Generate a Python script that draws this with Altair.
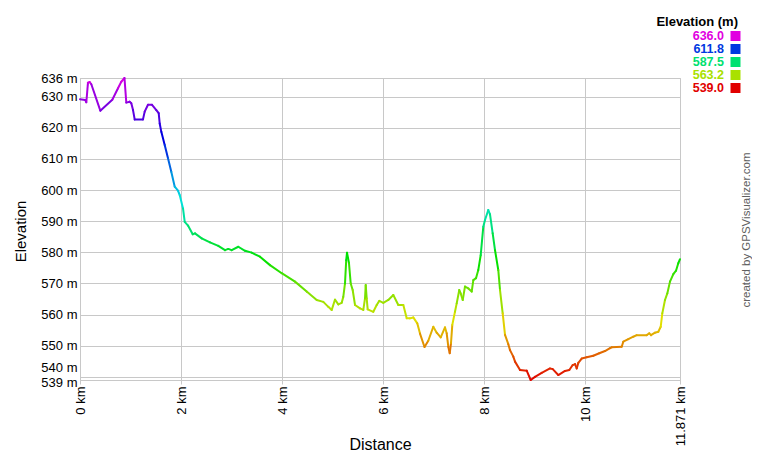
import altair as alt
import pandas as pd

# Track profile (distance in km, elevation in m)
distance_km = [
    0.000, 0.105, 0.125, 0.158, 0.192, 0.224, 0.402, 0.639, 0.752, 0.817,
    0.880, 0.916, 0.983, 1.015, 1.049, 1.082, 1.246, 1.280, 1.345, 1.425,
    1.510, 1.557, 1.577, 1.609, 1.676, 1.741, 1.806, 1.874, 1.939, 1.973,
    2.038, 2.072, 2.137, 2.230, 2.275, 2.408, 2.572, 2.736, 2.869, 2.934,
    3.001, 3.132, 3.265, 3.397, 3.561, 3.759, 3.991, 4.254, 4.485, 4.683,
    4.814, 4.913, 4.980, 5.045, 5.111, 5.178, 5.209, 5.243, 5.267, 5.283,
    5.322, 5.356, 5.395, 5.441, 5.540, 5.605, 5.639, 5.653, 5.672, 5.692,
    5.803, 5.870, 5.922, 6.001, 6.100, 6.199, 6.298, 6.397, 6.464, 6.529,
    6.594, 6.673, 6.727, 6.816, 6.891, 6.990, 7.057, 7.137, 7.221, 7.255,
    7.287, 7.315, 7.340, 7.366, 7.419, 7.453, 7.504, 7.532, 7.572, 7.617,
    7.683, 7.750, 7.782, 7.835, 7.880, 7.928, 7.979, 8.013, 8.078, 8.112,
    8.165, 8.211, 8.276, 8.310, 8.363, 8.409, 8.474, 8.508, 8.573, 8.607,
    8.706, 8.838, 8.917, 9.002, 9.135, 9.299, 9.353, 9.463, 9.596, 9.681,
    9.748, 9.794, 9.827, 9.859, 9.926, 10.025, 10.156, 10.274, 10.387, 10.486,
    10.520, 10.718, 10.749, 10.848, 10.947, 11.014, 11.212, 11.264, 11.297, 11.376,
    11.442, 11.489, 11.521, 11.574, 11.620, 11.673, 11.739, 11.792, 11.837, 11.871,
]
elevation_m = [
    629.2, 628.9, 628.2, 634.5, 634.7, 634.0, 625.5, 629.0, 632.7, 634.8,
    636.0, 628.1, 628.4, 627.9, 625.7, 622.7, 622.7, 625.2, 627.4, 627.4,
    625.7, 624.7, 621.4, 618.7, 614.5, 610.2, 605.9, 601.1, 599.8, 598.4,
    594.1, 589.8, 588.6, 585.8, 586.1, 584.5, 583.2, 582.1, 580.7, 581.1,
    580.7, 581.8, 580.5, 579.9, 578.6, 575.9, 573.3, 570.6, 567.4, 564.7,
    564.1, 562.5, 561.5, 564.8, 563.3, 563.8, 565.7, 570.0, 577.5, 579.9,
    576.5, 570.0, 567.9, 563.1, 562.0, 561.5, 565.2, 569.5, 565.2, 561.7,
    560.9, 563.1, 564.4, 563.8, 564.7, 566.3, 563.1, 563.1, 558.8, 558.8,
    559.1, 557.2, 553.9, 549.6, 551.6, 556.1, 554.2, 552.7, 555.9, 554.0,
    549.7, 547.6, 550.8, 556.7, 560.9, 563.6, 567.9, 566.8, 564.7, 569.0,
    568.4, 567.4, 571.1, 571.7, 574.3, 579.1, 588.2, 590.4, 593.6, 592.2,
    586.1, 580.7, 574.3, 567.9, 560.4, 553.5, 550.5, 548.6, 546.5, 544.9,
    542.2, 542.0, 539.0, 540.0, 541.3, 542.7, 542.5, 540.6, 541.9, 542.2,
    543.8, 544.1, 542.7, 544.5, 545.9, 546.3, 546.8, 547.6, 548.3, 549.2,
    549.5, 549.7, 551.3, 552.1, 552.9, 553.4, 553.4, 554.0, 553.4, 554.2,
    554.5, 556.1, 560.4, 564.7, 566.8, 570.6, 573.0, 574.1, 576.5, 577.8,
]

legend_labels = ["636.0", "611.8", "587.5", "563.2", "539.0"]
legend_values = [636.0, 611.8, 587.5, 563.2, 539.0]
legend_colors = ["#e100e1", "#0038e1", "#00e170", "#a9e100", "#e10000"]

y_ticks = [539, 540, 550, 560, 570, 580, 590, 600, 610, 620, 630, 636]
x_ticks = [0, 2, 4, 6, 8, 10, 11.871]

FONT = "Liberation Sans"
GRID = "#c8c8c8"

seg = pd.DataFrame({
    "d": distance_km[:-1],
    "e": elevation_m[:-1],
    "d2": distance_km[1:],
    "e2": elevation_m[1:],
})
seg["c"] = (seg["e"] + seg["e2"]) / 2

color_scale = alt.Scale(
    domain=legend_values[::-1],
    range=legend_colors[::-1],
    interpolate="hsl",
)

profile = alt.Chart(seg).mark_rule(strokeWidth=2, strokeCap="round").encode(
    x=alt.X(
        "d:Q",
        scale=alt.Scale(domain=[0, 11.871], nice=False, zero=False),
        axis=alt.Axis(
            values=x_ticks,
            labelExpr="datum.value + ' km'",
            labelAngle=270,
            labelAlign="right",
            labelBaseline="middle",
            labelFontSize=13,
            labelFont=FONT,
            labelColor="#000000",
            labelPadding=2,
            labelFlush=False,
            labelOverlap=False,
            tickSize=4,
            tickColor=GRID,
            domainColor=GRID,
            gridColor=GRID,
            title="Distance",
            titleFont=FONT,
            titleFontSize=16,
            titleFontWeight="normal",
            titleColor="#000000",
            titleX=300,
            titleY=69,
            titleAlign="center",
            titleBaseline="alphabetic",
        ),
    ),
    x2="d2:Q",
    y=alt.Y(
        "e:Q",
        scale=alt.Scale(domain=[539, 636], nice=False, zero=False),
        axis=alt.Axis(
            values=y_ticks,
            labelExpr="datum.value + ' m'",
            labelFontSize=13,
            labelFont=FONT,
            labelColor="#000000",
            labelPadding=3,
            labelFlush=False,
            labelOverlap=False,
            labelBaseline="middle",
            labelOffset={"expr": "datum.value == 540 ? -9 : (datum.value == 539 ? 2 : 0)"},
            ticks=False,
            domainColor=GRID,
            gridColor=GRID,
            title="Elevation",
            titleFont=FONT,
            titleFontSize=15,
            titleFontWeight="normal",
            titleColor="#000000",
            titleAngle=270,
            titleX=-60,
            titleY=153,
            titleAlign="center",
            titleBaseline="middle",
        ),
    ),
    y2="e2:Q",
    color=alt.Color("c:Q", scale=color_scale, legend=None),
)

leg = pd.DataFrame({"label": legend_labels, "val": legend_values})
leg_y = alt.Y(
    "label:N",
    sort=legend_labels,
    scale=alt.Scale(type="point", range=[-42, 10], padding=0),
    axis=None,
)
leg_color = alt.Color("val:Q", scale=color_scale, legend=None)

leg_text = alt.Chart(leg).mark_text(
    align="right", baseline="middle", fontWeight="bold", fontSize=12.5, font=FONT, x=644
).encode(y=leg_y, text="label:N", color=leg_color)

leg_sq = alt.Chart(leg).mark_square(size=100, x=655.5, opacity=1).encode(
    y=leg_y, color=leg_color
)

leg_title = alt.Chart(pd.DataFrame({"t": ["Elevation (m)"]})).mark_text(
    align="right", baseline="middle", fontWeight="bold", fontSize=13, font=FONT,
    color="#000000", x=658, y=-56,
).encode(text="t:N")

credit = alt.Chart(pd.DataFrame({"t": ["created by GPSVisualizer.com"]})).mark_text(
    align="center", baseline="middle", fontSize=11.5, font=FONT,
    color="#606060", angle=270, x=667, y=152,
).encode(text="t:N")

chart = alt.layer(profile, leg_text, leg_sq, leg_title, credit).resolve_scale(
    y="independent"
).properties(
    width=600,
    height=302,
    padding={"left": 72, "top": 70, "right": 72, "bottom": 72},
    autosize=alt.AutoSizeParams(type="none"),
    background="#ffffff",
).configure_view(stroke=GRID)

chart.save("out.html", embed_options={"renderer": "svg", "actions": False})
